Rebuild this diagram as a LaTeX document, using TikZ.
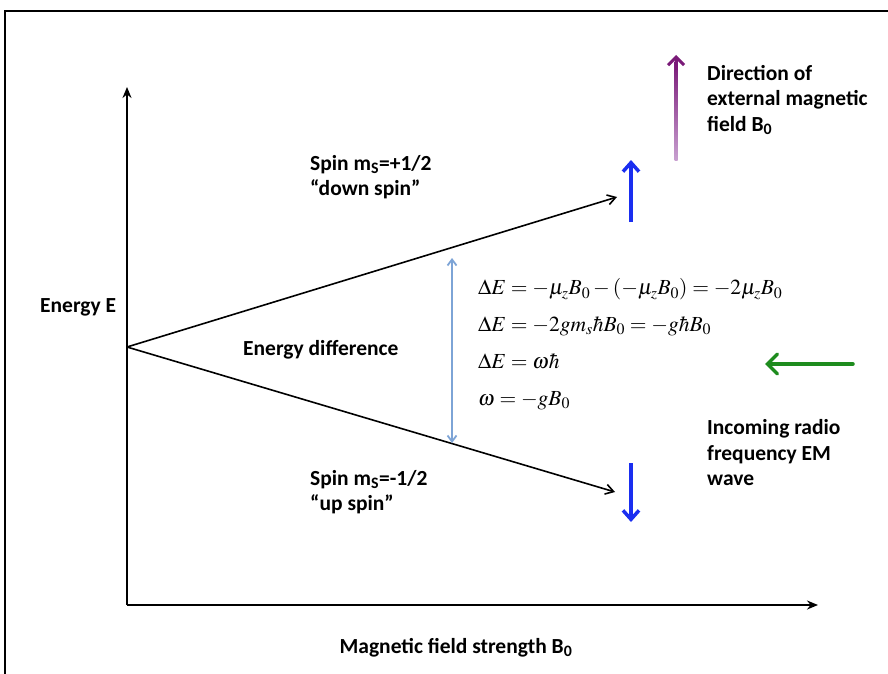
\documentclass[tikz,border=0pt]{standalone}
\usepackage{mathptmx}
\usepackage{fontspec}
\setmainfont{Carlito}
\usetikzlibrary{arrows.meta}
\definecolor{spinblue}{HTML}{1A2EF0}
\definecolor{gapblue}{HTML}{7DA4D6}
\definecolor{rfgreen}{HTML}{1E8C1E}
\definecolor{bdark}{HTML}{7A1A78}
\definecolor{blight}{HTML}{C8A0D0}
\tikzset{
  lbl/.style={font=\bfseries\fontsize{21.5}{25.5}\selectfont, align=left, inner sep=0pt, anchor=west},
  eq/.style={font=\fontsize{21.5}{36.7}\selectfont, align=left, inner sep=0pt, anchor=west},
  axis/.style={line width=1.8pt, -{Stealth[length=11pt,width=9pt]}},
  level/.style={line width=1.6pt, -{Straight Barb[length=8pt,width=10pt]}},
  spin/.style={line width=3.5pt, spinblue, -{Straight Barb[length=9pt,width=16pt]}},
}
\begin{document}
\begin{tikzpicture}[x=1pt,y=-1pt]
\useasboundingbox (0,0) rectangle (888,674);
% frame
\draw[line width=2pt] (5,674) -- (5,11) -- (888,11);
% axes
\coordinate (O) at (127,605);
\coordinate (ytip) at (127,87);
\coordinate (xtip) at (818,605);
\draw[axis] (O) -- (ytip);
\draw[axis] (O) -- (xtip);
% levels
\coordinate (V) at (127,347);
\coordinate (up) at (617,197);
\coordinate (dn) at (615,492);
\draw[level] (V) -- (up);
\draw[level] (V) -- (dn);
% spin arrows
\coordinate (s1a) at (631,222); \coordinate (s1b) at (631,160);
\coordinate (s2a) at (631,463); \coordinate (s2b) at (631,522);
\draw[spin] (s1a) -- (s1b);
\draw[spin] (s2a) -- (s2b);
% purple field arrow
\shade[top color=bdark, bottom color=blight] (674.5,62) rectangle (677.5,160);
\coordinate (ba) at (676,70); \coordinate (bb) at (676,55);
\draw[line width=3pt, bdark, -{Straight Barb[length=8pt,width=16pt]}] (ba) -- (bb);
% energy gap
\coordinate (ga) at (452,258); \coordinate (gb) at (452,443);
\draw[line width=1.8pt, gapblue, {Straight Barb[length=6pt,width=9pt]}-{Straight Barb[length=6pt,width=9pt]}] (ga) -- (gb);
% green arrow
\coordinate (ra) at (853,364); \coordinate (rb) at (765,364);
\draw[line width=3.5pt, rfgreen, line cap=round, -{Straight Barb[length=10pt,width=20pt,line cap=round]}] (ra) -- (rb);
% labels
\node[lbl] (energy) at (40,307) {Energy E};
\node[lbl] (plus) at (310,177) {Spin m\textsubscript{S}=+1/2\\“down spin”};
\node[lbl] (diff) at (243,350) {Energy difference};
\node[lbl] (minus) at (310,492) {Spin m\textsubscript{S}=-1/2\\“up spin”};
\node[lbl] (dir) at (707,100) {Direction of\\external magnetic\\field B\textsubscript{0}};
\node[lbl] (rf) at (707,453) {Incoming radio\\frequency EM\\wave};
\node[lbl, anchor=center] (xl) at (456,648) {Magnetic field strength B\textsubscript{0}};
% equations
\node[eq, anchor=base west] (eqs) at (478,405) {$\Delta E = -\mu_z B_0 - (-\mu_z B_0) = -2\mu_z B_0$\\
$\Delta E = -2 g m_s \hbar B_0 = -g\hbar B_0$\\
$\Delta E = \omega\hbar$\\
$\omega = -g B_0$};
\end{tikzpicture}
\end{document}
